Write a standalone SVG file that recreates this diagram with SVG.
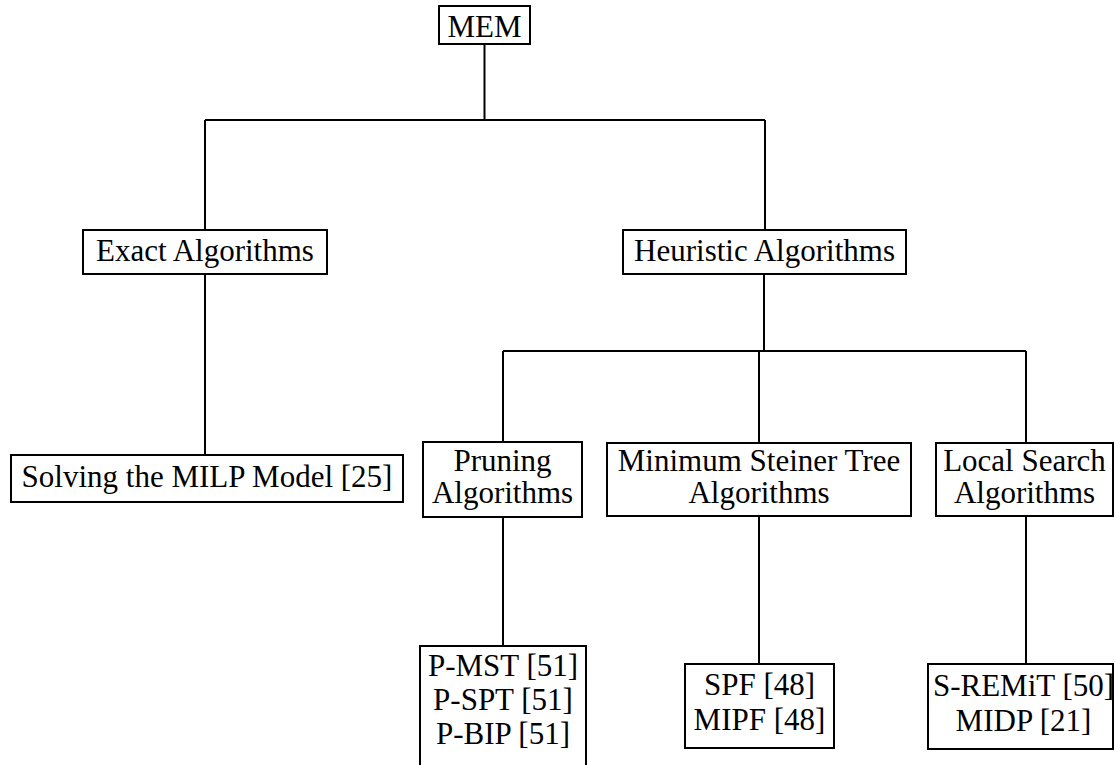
<svg xmlns="http://www.w3.org/2000/svg" width="1115" height="765" viewBox="0 0 1115 765">
  <style>
    .box { fill: #ffffff; stroke: #000000; stroke-width: 2; }
    .edge { fill: none; stroke: #000000; stroke-width: 2; }
    .lbl { font-family: "Liberation Serif", "DejaVu Serif", "Times New Roman", serif; font-size: 31px; fill: #000000; text-anchor: middle; }
  </style>
  <rect width="1115" height="765" fill="#ffffff"/>

  <!-- tree connectors -->
  <g id="connectors">
    <path class="edge" d="M484.5,44 V120 M205,120 H765 M205,120 V230 M765,120 V230"/>
    <path class="edge" d="M205,274 V455"/>
    <path class="edge" d="M764,274 V351 M503,351 H1026 M503,351 V442 M759,351 V443 M1026,351 V443"/>
    <path class="edge" d="M503,517 V646"/>
    <path class="edge" d="M759,516 V664"/>
    <path class="edge" d="M1026,516 V664"/>
  </g>

  <g id="mem">
    <rect class="box" x="439" y="6" width="91" height="38"/>
    <text class="lbl" x="484.5" y="37">MEM</text>
  </g>

  <g id="exact">
    <rect class="box" x="83" y="230" width="244" height="44"/>
    <text class="lbl" x="205" y="261">Exact Algorithms</text>
  </g>

  <g id="heuristic">
    <rect class="box" x="623" y="230" width="283" height="44"/>
    <text class="lbl" x="764.5" y="261">Heuristic Algorithms</text>
  </g>

  <g id="milp">
    <rect class="box" x="11" y="455" width="392" height="47"/>
    <text class="lbl" x="207" y="487">Solving the MILP Model [25]</text>
  </g>

  <g id="pruning">
    <rect class="box" x="423" y="442" width="159" height="75"/>
    <text class="lbl"><tspan x="502.5" y="471">Pruning</tspan><tspan x="502.5" y="503">Algorithms</tspan></text>
  </g>

  <g id="steiner">
    <rect class="box" x="607" y="443" width="304" height="73"/>
    <text class="lbl"><tspan x="759" y="471">Minimum Steiner Tree</tspan><tspan x="759" y="503">Algorithms</tspan></text>
  </g>

  <g id="local">
    <rect class="box" x="936" y="443" width="177" height="73"/>
    <text class="lbl"><tspan x="1024.5" y="471">Local Search</tspan><tspan x="1024.5" y="503">Algorithms</tspan></text>
  </g>

  <g id="pruning-list">
    <rect class="box" x="420" y="646" width="166" height="134"/>
    <text class="lbl"><tspan x="503" y="676">P-MST [51]</tspan><tspan x="503" y="710">P-SPT [51]</tspan><tspan x="503" y="744">P-BIP [51]</tspan></text>
  </g>

  <g id="steiner-list">
    <rect class="box" x="685" y="664" width="149" height="84"/>
    <text class="lbl"><tspan x="759.5" y="695">SPF [48]</tspan><tspan x="759.5" y="730">MIPF [48]</tspan></text>
  </g>

  <g id="local-list">
    <rect class="box" x="928" y="664" width="185" height="85"/>
    <text class="lbl"><tspan x="1023.5" y="696">S-REMiT [50]</tspan><tspan x="1023.5" y="731">MIDP [21]</tspan></text>
  </g>
</svg>
